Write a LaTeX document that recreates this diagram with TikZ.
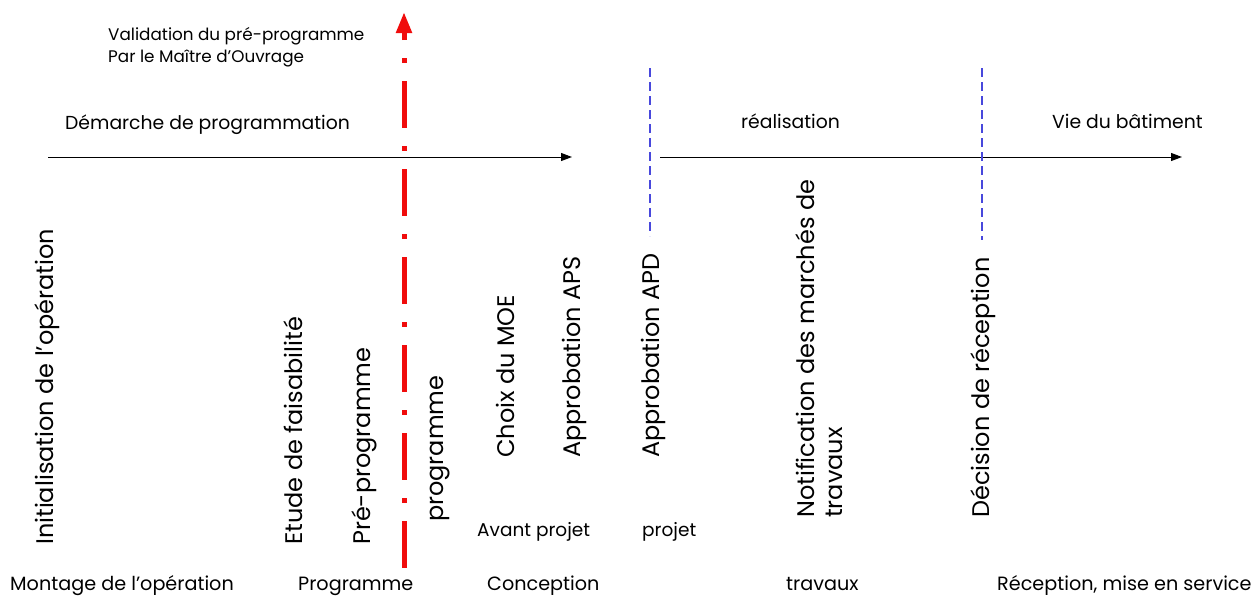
\documentclass[tikz,border=0pt]{standalone}
\usepackage{fontspec}
\setmainfont{Poppins}
\usetikzlibrary{arrows.meta}
\definecolor{vred}{RGB}{240,12,12}
\definecolor{vblue}{RGB}{72,72,220}
\begin{document}
\begin{tikzpicture}[x=1pt,y=-1pt,
  htext/.style={inner sep=0pt, anchor=base west, font=\fontsize{19.2}{22}\selectfont},
  hhead/.style={inner sep=0pt, anchor=base west, font=\fontsize{18.8}{22}\selectfont},
  hsub/.style={inner sep=0pt, anchor=base west, font=\fontsize{18.5}{22}\selectfont},
  hsmall/.style={inner sep=0pt, anchor=base west, font=\fontsize{16.8}{20}\selectfont},
  vtext/.style={inner sep=0pt, anchor=base west, rotate=90, font=\fontsize{24}{28}\selectfont},
  timeline/.style={line width=1pt, -{Triangle[length=11pt,width=8pt]}},
  phase/.style={vblue, line width=1.5pt, dash pattern=on 9pt off 5pt},
  validline/.style={vred, line width=5pt, dash pattern=on 5pt off 18pt on 47pt off 18pt, dash phase=70pt},
  validtip/.style={vred, line width=5pt, -{Triangle[length=21pt,width=15pt]}}
]
\useasboundingbox (0,0) rectangle (1252,595);

% timelines
\coordinate (a1s) at (48,157);
\coordinate (a1e) at (572,157);
\coordinate (a2s) at (660,157);
\coordinate (a2e) at (1182,157);
\draw[timeline] (a1s) -- (a1e);
\draw[timeline] (a2s) -- (a2e);

% phase separators
\coordinate (b1t) at (650,68);
\coordinate (b1b) at (650,236);
\coordinate (b2t) at (982,68);
\coordinate (b2b) at (982,240);
\draw[phase] (b1t) -- (b1b);
\draw[phase] (b2t) -- (b2b);

% validation line
\coordinate (rtop) at (404,40);
\coordinate (rbot) at (404,570);
\coordinate (rtip) at (404,12);
\draw[validline] (rtop) -- (rbot);
\draw[validtip] (rtop) -- (rtip);

% top texts
\node[hsmall] (val1) at (108,40) {Validation du pré-programme};
\node[hsmall] (val2) at (108,62) {Par le Maître d’Ouvrage};
\node[hhead] (dem) at (65,129) {Démarche de programmation};
\node[hhead] (rea) at (741,128) {réalisation};
\node[hhead] (vie) at (1052,128) {Vie du bâtiment};

% vertical milestones
\node[vtext] (init) at (53,545) {Initialisation de l’opération};
\node[vtext] (etude) at (302,545) {Etude de faisabilité};
\node[vtext] (prep) at (370,545) {Pré-programme};
\node[vtext] (prog) at (443,522) {programme};
\node[vtext] (moe) at (514,458) {Choix du MOE};
\node[vtext] (aps) at (580,458) {Approbation APS};
\node[vtext] (apd) at (659,458) {Approbation APD};
\node[vtext] (notif1) at (814,518) {Notification des marchés de};
\node[vtext] (notif2) at (842,518) {travaux};
\node[vtext] (dec) at (989,518) {Décision de réception};

% sub-phases
\node[hsub] (avp) at (477,536) {Avant projet};
\node[hsub] (pro) at (642,536) {projet};

% phases
\node[htext] (mont) at (10,590) {Montage de l’opération};
\node[htext] (progr) at (298,590) {Programme};
\node[htext] (conc) at (487,590) {Conception};
\node[htext] (trav) at (786,590) {travaux};
\node[htext] (recep) at (997,590) {Réception, mise en service};
\end{tikzpicture}
\end{document}
